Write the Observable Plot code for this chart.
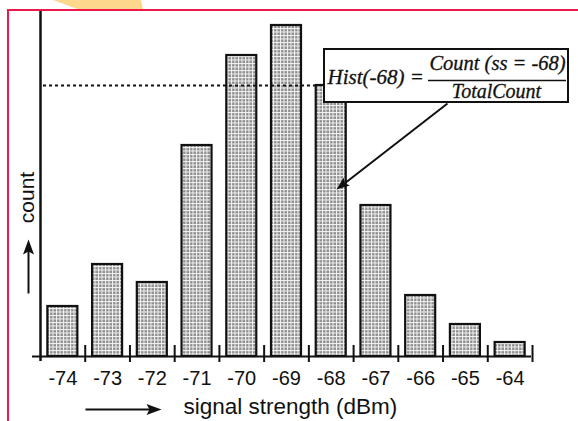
<!DOCTYPE html>
<html><head><meta charset="utf-8">
<script src="https://cdn.jsdelivr.net/npm/d3@7"></script>
<script src="https://cdn.jsdelivr.net/npm/@observablehq/plot@0.6"></script>
<style>
html,body{margin:0;padding:0;background:#fff;}
#wrap{position:relative;width:578px;height:421px;overflow:hidden;}
#blob{position:absolute;left:0;top:0;width:578px;height:12px;background:#fdd78c;clip-path:polygon(53px 0,141px 0,143px 10px,80px 10px);}
#frame{position:absolute;left:7px;top:9px;width:600px;height:440px;border-left:2px solid #ea1a4c;border-top:2px solid #ea1a4c;pointer-events:none;}
#chart{position:absolute;left:0;top:0;}
</style></head><body>
<div id="wrap"><div id="blob"></div><div id="chart"></div><div id="frame"></div></div>
<script>
// ---- data ----
const signalStrength = [-74, -73, -72, -71, -70, -69, -68, -67, -66, -65, -64];
const counts = [50, 92, 74, 211, 301, 331, 271, 151, 61, 32, 14];
const tickLabels = ["-74", "-73", "-72", "-71", "-70", "-69", "-68", "-67", "-66", "-65", "-64"];
const highlight = -68;
const xTitle = "signal strength (dBm)";
const yTitle = "count";
const formulaLeft = `Hist(${highlight}) =`;
const formulaNum = `Count (ss = ${highlight})`;
const formulaDen = "TotalCount";

// ---- layout ----
const W = 578, H = 421, mL = 40, mR = 46, mT = 10, mB = 65;
const xDomain = [signalStrength[0] - 0.5, signalStrength[signalStrength.length - 1] + 0.5];
const yDomain = [0, H - mT - mB];
const step = (W - mL - mR) / (xDomain[1] - xDomain[0]);
const px2x = px => xDomain[0] + (px - mL) / step;
const py2y = py => (H - mB) - py;
const halfBar = 15 / step;

const data = signalStrength.map((s, i) => ({ss: s, count: counts[i], label: tickLabels[i]}));
const hv = counts[signalStrength.indexOf(highlight)];
const boundaries = d3.range(signalStrength.length + 1).map(i => xDomain[0] + i);

const head = (len, half) => ({draw(ctx) { ctx.moveTo(0, 0); ctx.lineTo(half, len); ctx.lineTo(0, len * 0.8); ctx.lineTo(-half, len); ctx.closePath(); }});
const ink = "#111";
const serif = {fontFamily: "Liberation Serif", fontStyle: "italic", fill: ink, stroke: ink, strokeWidth: 0.3};

const chart = Plot.plot({
  width: W, height: H,
  marginLeft: mL, marginRight: mR, marginTop: mT, marginBottom: mB,
  x: {domain: xDomain, axis: null},
  y: {domain: yDomain, axis: null},
  style: {fontFamily: "Liberation Sans", background: "transparent", color: ink},
  marks: [
    Plot.rect(data, {x1: d => d.ss - halfBar, x2: d => d.ss + halfBar, y1: 0, y2: "count",
      fill: "url(#hatch)", stroke: ink, strokeWidth: 2.2}),
    Plot.ruleY([hv], {x1: px2x(43), x2: highlight - halfBar, stroke: ink, strokeWidth: 2, strokeDasharray: "3,3"}),
    Plot.ruleX([xDomain[0]], {y1: py2y(361), y2: py2y(11), stroke: ink, strokeWidth: 2.5}),
    Plot.ruleY([0], {x1: px2x(32), x2: px2x(531), stroke: ink, strokeWidth: 2}),
    Plot.ruleX(boundaries.slice(1), {y1: py2y(362), y2: py2y(345), stroke: ink, strokeWidth: 2}),
    Plot.text(data, {x: "ss", y: py2y(378), text: "label", fontSize: 20, fill: ink}),
    // x title with arrow
    Plot.link([0], {x1: px2x(85), y1: py2y(409), x2: px2x(150), y2: py2y(409), stroke: ink, strokeWidth: 2}),
    Plot.dot([0], {x: px2x(161), y: py2y(409), symbol: head(15, 5.5), rotate: 90, fill: ink, stroke: "none"}),
    Plot.text([xTitle], {x: px2x(183), y: py2y(406), textAnchor: "start", fontSize: 22.5, fill: ink}),
    // y title with arrow
    Plot.link([0], {x1: px2x(28), y1: py2y(293), x2: px2x(28), y2: py2y(250), stroke: ink, strokeWidth: 2}),
    Plot.dot([0], {x: px2x(28), y: py2y(239), symbol: head(15, 5.5), rotate: 0, fill: ink, stroke: "none"}),
    Plot.text([yTitle], {x: px2x(27), y: py2y(197), rotate: -90, fontSize: 21, fill: ink}),
    // annotation
    Plot.rect([0], {x1: px2x(324), x2: px2x(568), y1: py2y(102), y2: py2y(49), fill: "white", stroke: ink, strokeWidth: 2}),
    Plot.text([formulaLeft], {x: px2x(327), y: py2y(77), textAnchor: "start", fontSize: 21, ...serif}),
    Plot.text([formulaNum], {x: px2x(497), y: py2y(63), fontSize: 20.5, ...serif}),
    Plot.ruleY([py2y(80)], {x1: px2x(428), x2: px2x(566), stroke: ink, strokeWidth: 1.5}),
    Plot.text([formulaDen], {x: px2x(496), y: py2y(91.5), fontSize: 20, ...serif}),
    Plot.link([0], {x1: px2x(447), y1: py2y(103), x2: px2x(344), y2: py2y(183), stroke: ink, strokeWidth: 2}),
    Plot.dot([0], {x: px2x(336), y: py2y(189), symbol: head(13, 5), rotate: 232, fill: ink, stroke: "none"})
  ]
});

const svg = d3.select(chart);
const defs = svg.insert("defs", ":first-child");
const pat = defs.append("pattern").attr("id", "hatch").attr("patternUnits", "userSpaceOnUse")
  .attr("width", 3.5).attr("height", 3.5);
pat.append("rect").attr("width", 3.5).attr("height", 3.5).attr("fill", "#f4f4f4");
pat.append("rect").attr("x", 1).attr("y", 1).attr("width", 2.5).attr("height", 2.5).attr("fill", "#8e8e8e");
document.getElementById("chart").appendChild(chart);
</script>
</body></html>
